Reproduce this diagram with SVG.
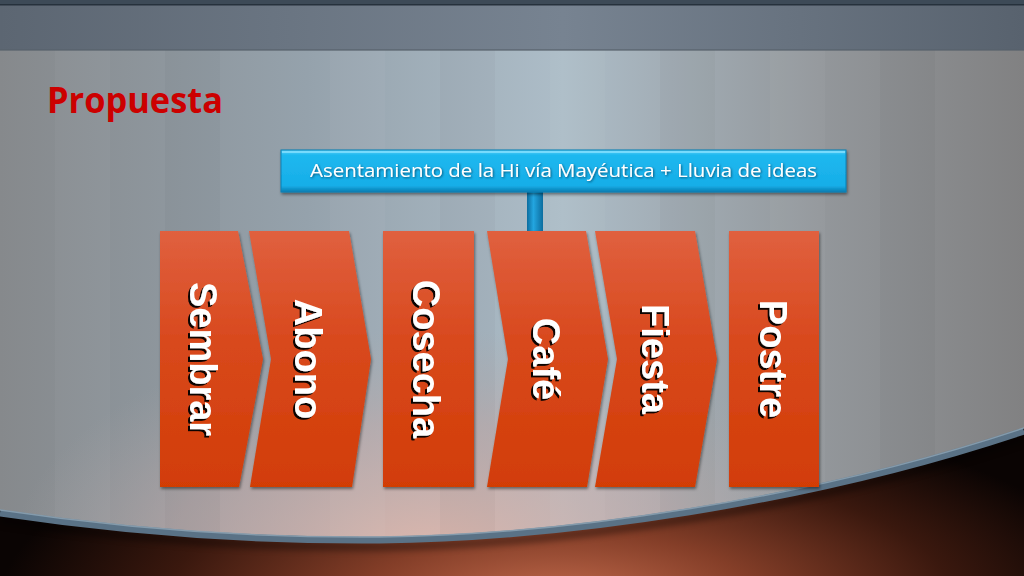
<svg xmlns="http://www.w3.org/2000/svg" width="1024" height="576" viewBox="0 0 1024 576">
  <defs>
    <linearGradient id="bgH" x1="0" y1="0" x2="1" y2="0">
      <stop offset="0" stop-color="#86898c"/>
      <stop offset="0.3" stop-color="#95a2ac"/>
      <stop offset="0.55" stop-color="#adbdc8"/>
      <stop offset="0.8" stop-color="#93979b"/>
      <stop offset="1" stop-color="#818182"/>
    </linearGradient>
    <radialGradient id="warm" cx="430" cy="560" r="420" gradientUnits="userSpaceOnUse" gradientTransform="translate(430 560) scale(1 0.55) translate(-430 -560)">
      <stop offset="0" stop-color="#e2b8ac" stop-opacity="0.95"/>
      <stop offset="0.6" stop-color="#c8aaa6" stop-opacity="0.5"/>
      <stop offset="1" stop-color="#b0a8a8" stop-opacity="0"/>
    </radialGradient>
    <linearGradient id="topBand" x1="0" y1="0" x2="1" y2="0">
      <stop offset="0" stop-color="#5c6672"/>
      <stop offset="0.55" stop-color="#778391"/>
      <stop offset="1" stop-color="#58626e"/>
    </linearGradient>
    <radialGradient id="floor" cx="560" cy="600" r="560" gradientUnits="userSpaceOnUse" gradientTransform="translate(560 600) scale(1 0.35) translate(-560 -600)">
      <stop offset="0" stop-color="#c26a4c"/>
      <stop offset="0.35" stop-color="#843e28"/>
      <stop offset="0.7" stop-color="#3a180e"/>
      <stop offset="1" stop-color="#0a0403"/>
    </radialGradient>
    <linearGradient id="chev" x1="0" y1="0" x2="0" y2="1">
      <stop offset="0" stop-color="#e0603f"/>
      <stop offset="0.45" stop-color="#d8481c"/>
      <stop offset="1" stop-color="#d23d06"/>
    </linearGradient>
    <linearGradient id="blueBox" x1="0" y1="0" x2="0" y2="1">
      <stop offset="0" stop-color="#5ad2f8"/>
      <stop offset="0.12" stop-color="#1fb8ef"/>
      <stop offset="0.85" stop-color="#16aee8"/>
      <stop offset="1" stop-color="#0a7cb0"/>
    </linearGradient>
    <linearGradient id="bar" x1="0" y1="0" x2="1" y2="0">
      <stop offset="0" stop-color="#0c6c9e"/>
      <stop offset="0.4" stop-color="#23a6e0"/>
      <stop offset="1" stop-color="#0c6c9e"/>
    </linearGradient>
    <filter id="shapeShadow" x="-10%" y="-10%" width="125%" height="125%">
      <feDropShadow dx="1" dy="2" stdDeviation="1.8" flood-color="#000" flood-opacity="0.45"/>
    </filter>
    <filter id="txtShadow" x="-10%" y="-20%" width="130%" height="150%">
      <feDropShadow dx="2" dy="2" stdDeviation="0.6" flood-color="#000" flood-opacity="0.95"/>
    </filter>
    <filter id="smallTxtShadow" x="-5%" y="-30%" width="110%" height="160%">
      <feDropShadow dx="1" dy="1" stdDeviation="0.8" flood-color="#03415e" flood-opacity="0.8"/>
    </filter>
    <filter id="blur3"><feGaussianBlur stdDeviation="3"/></filter>
  </defs>
  <style>
    .chev { fill: url(#chev); filter: url(#shapeShadow); }
    .lbl { font-family: "Liberation Sans", Arial, sans-serif; font-weight: bold; font-size: 38px; fill: #ffffff; text-anchor: middle; filter: url(#txtShadow); }
    .stripe { fill: #ffffff; opacity: 0.03; }
    .stripeD { fill: #000000; opacity: 0.025; }
  </style>

  <!-- background -->
  <rect x="0" y="0" width="1024" height="576" fill="url(#bgH)"/>
  <rect x="0" y="200" width="1024" height="376" fill="url(#warm)"/>
  <g>
    <rect class="stripe" x="55" y="0" width="55" height="576"/>
    <rect class="stripeD" x="165" y="0" width="55" height="576"/>
    <rect class="stripe" x="330" y="0" width="55" height="576"/>
    <rect class="stripeD" x="440" y="0" width="55" height="576"/>
    <rect class="stripe" x="550" y="0" width="55" height="576"/>
    <rect class="stripeD" x="660" y="0" width="55" height="576"/>
    <rect class="stripe" x="770" y="0" width="55" height="576"/>
    <rect class="stripeD" x="880" y="0" width="55" height="576"/>
  </g>
  <!-- top band -->
  <rect x="0" y="0" width="1024" height="50" fill="url(#topBand)"/>
  <rect x="0" y="0" width="1024" height="5" fill="#3d4a57"/>
  <rect x="0" y="4" width="1024" height="1.5" fill="#26313c"/>
  <rect x="0" y="49" width="1024" height="2" fill="#56606a" opacity="0.6"/>

  <!-- floor below curve -->
  <path d="M0,510 C120,528 250,538 380,537 C560,535 810,500 1024,428 L1024,576 L0,576 Z" fill="url(#floor)"/>
  <path d="M0,520 C120,538 250,548 380,547 C560,545 810,510 1024,438" fill="none" stroke="#000" stroke-width="8" opacity="0.35" filter="url(#blur3)"/>
  <path d="M0,513 C120,531 250,541 380,540 C560,538 810,503 1024,431" fill="none" stroke="#5a7286" stroke-width="7"/>
  <path d="M0,510 C120,528 250,538 380,537 C560,535 810,500 1024,428" fill="none" stroke="#8fa5b5" stroke-width="1.5" opacity="0.8"/>

  <!-- title -->
  <text x="47" y="113" font-family="Open Sans, Liberation Sans, sans-serif" font-weight="bold" font-size="35" fill="#cc0000" textLength="176" lengthAdjust="spacingAndGlyphs">Propuesta</text>

  <!-- connectors -->
  <g id="connectors">
    <rect x="527" y="190" width="16" height="43" fill="url(#bar)"/>
  </g>

  <!-- header node -->
  <g id="node-header">
    <rect x="281" y="150" width="565" height="42" fill="url(#blueBox)" stroke="#0b80b6" stroke-width="1" filter="url(#shapeShadow)"/>
    <rect x="282" y="151" width="563" height="2" fill="#8fe2ff" opacity="0.7"/>
    <text x="563.5" y="177" font-family="Open Sans, Liberation Sans, sans-serif" font-size="19" fill="#ffffff" text-anchor="middle" textLength="507" lengthAdjust="spacingAndGlyphs" filter="url(#smallTxtShadow)">Asentamiento de la Hi vía Mayéutica + Lluvia de ideas</text>
  </g>

  <!-- process nodes -->
  <g id="node-sembrar">
    <path class="chev" d="M160,231 H238 L263,359 L239,487 H160 Z"/>
    <text class="lbl" transform="translate(190,359) rotate(90)">Sembrar</text>
  </g>
  <g id="node-abono">
    <path class="chev" d="M249,231 H349 L371,359 L352,487 H250 L271,359 Z"/>
    <text class="lbl" transform="translate(295,359) rotate(90)">Abono</text>
  </g>
  <g id="node-cosecha">
    <path class="chev" d="M383,231 H474 V487 H383 Z"/>
    <text class="lbl" transform="translate(413,359) rotate(90)">Cosecha</text>
  </g>
  <g id="node-cafe">
    <path class="chev" d="M487,231 H586 L608,359 L587,487 H487 L508,359 Z"/>
    <text class="lbl" transform="translate(533,359) rotate(90)">Café</text>
  </g>
  <g id="node-fiesta">
    <path class="chev" d="M595,231 H695 L717,359 L695,487 H595 L617,359 Z"/>
    <text class="lbl" transform="translate(642,359) rotate(90)">Fiesta</text>
  </g>
  <g id="node-postre">
    <path class="chev" d="M729,231 H819 V487 H729 Z"/>
    <text class="lbl" transform="translate(760,359) rotate(90)">Postre</text>
  </g>
</svg>
